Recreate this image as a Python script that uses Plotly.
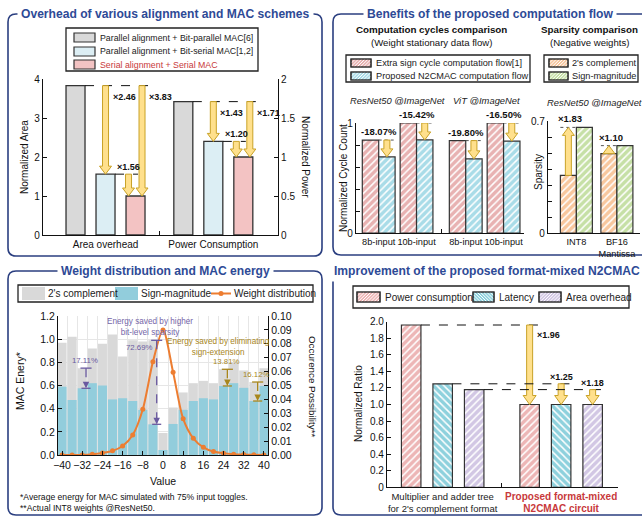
import plotly.graph_objects as go

W, H = 642, 518
FONT = "Liberation Sans, Arial, sans-serif"
TITLE_BLUE = "#2E4A96"
BORDER = "#2B3F80"
ARROW_FILL = "#FFE08C"
ARROW_LINE = "#C9A227"
OUTLINE = "#333333"

# ---------------- data ----------------
# (a) Overhead of various alignment and MAC schemes
schemes = ["Parallel alignment + Bit-parallel MAC[6]",
           "Parallel alignment + Bit-serial MAC[1,2]",
           "Serial alignment + Serial MAC"]
overhead_cats = ["Area overhead", "Power Consumption"]
area_vals = [3.83, 1.56, 1.00]
power_vals = [1.71, 1.20, 1.00]
area_ratio_labels = ["×2.46", "×3.83", "×1.56"]
power_ratio_labels = ["×1.43", "×1.71", "×1.20"]

# (b) Benefits of the proposed computation flow
cycle_flows = ["Extra sign cycle computation flow[1]", "Proposed N2CMAC computation flow"]
cycle_models = ["ResNet50 @ImageNet", "ViT @ImageNet"]
cycle_inputs = ["8b-input", "10b-input", "8b-input", "10b-input"]
cycle_extra = [0.845, 1.00, 0.84, 1.00]
cycle_n2c = [0.692, 0.846, 0.674, 0.835]
cycle_labels = ["-18.07%", "-15.42%", "-19.80%", "-16.50%"]

sparsity_formats = ["2's complement", "Sign-magnitude"]
sparsity_model = "ResNet50 @ImageNet"
sparsity_cats = ["INT8", "BF16<br>Mantissa"]
sparsity_2c = [0.36, 0.496]
sparsity_sm = [0.66, 0.546]
sparsity_labels = ["×1.83", "×1.10"]

# (c) Weight distribution and MAC energy
c_series = ["2's complement", "Sign-magnitude", "Weight distribution"]
weight_values = [-40, -36, -32, -28, -24, -20, -16, -12, -8, -4, 0,
                 4, 8, 12, 16, 20, 24, 28, 32, 36, 40]
energy_2c = [0.97, 1.02, 0.75, 0.92, 0.96, 1.04, 0.85, 0.99, 0.98, 0.99, 0.19,
             0.41, 0.54, 0.62, 0.64, 0.62, 0.74, 0.80, 0.73, 0.63, 0.75]
energy_sm = [0.59, 0.475, 0.576, 0.62, 0.60, 0.48, 0.49, 0.466, 0.39, 0.265, 0.043,
             0.268, 0.39, 0.466, 0.49, 0.48, 0.596, 0.62, 0.58, 0.466, 0.596]
occurrence = [0.0, 0.0, 0.0, 0.0005, 0.0015, 0.003, 0.0065, 0.0144, 0.0329, 0.067, 0.09,
              0.0595, 0.026, 0.012, 0.0055, 0.0025, 0.0012, 0.0006, 0.0003, 0.0001, 0.0]
saving_values = [-32, -4, 24, 36]
saving_labels = ["17.11%", "72.69%", "13.81%", "16.12%"]

# (d) Improvement of the proposed format-mixed N2CMAC
d_cats = ["Multiplier and adder tree<br>for 2's complement format",
          "<b><span style='color:#C8393B;font-size:10px'>Proposed format-mixed<br>N2CMAC circuit</span></b>"]
d_series = ["Power consumption", "Latency", "Area overhead"]
d_base = [1.96, 1.25, 1.18]
d_prop = [1.00, 1.00, 1.00]
d_labels = ["×1.96", "×1.25", "×1.18"]

# ---------------- helpers ----------------
fig = go.Figure()
shapes, annotations = [], []


def fx(px):
    return px / W


def fy(py):
    return 1 - py / H


def xdom(a, b):
    return [a / W, b / W]


def ydom(t, b):
    return [1 - b / H, 1 - t / H]


def upx(rng, p0, p1):
    return (rng[1] - rng[0]) / (p1 - p0)


def arrow_path(xc, y_from, y_to, ux, uy, shaft=6, head=12, head_h=8):
    s, h = shaft / 2 * ux, head / 2 * ux
    d = 1 if y_to < y_from else -1
    yb = y_to + d * head_h * uy
    pts = [(xc - s, y_from), (xc + s, y_from), (xc + s, yb), (xc + h, yb),
           (xc, y_to), (xc - h, yb), (xc - s, yb)]
    return "M" + " L".join(f"{x:.5f},{y:.5f}" for x, y in pts) + " Z"


def add_arrow(xref, yref, xc, y_from, y_to, ux, uy, **kw):
    shapes.append(dict(type="path", xref=xref, yref=yref,
                       path=arrow_path(xc, y_from, y_to, ux, uy, **kw),
                       fillcolor=ARROW_FILL, line=dict(color=ARROW_LINE, width=1), layer="above"))


def add_hline(xref, yref, x0, x1, y, dash="dash", color="#111", width=1):
    shapes.append(dict(type="line", xref=xref, yref=yref, x0=x0, x1=x1, y0=y, y1=y,
                       line=dict(color=color, width=width, dash=dash), layer="above"))


def label(xref, yref, x, y, text, xanchor="center", yanchor="bottom", size=9,
          bold=True, color="#111", yshift=0, xshift=0):
    annotations.append(dict(xref=xref, yref=yref, x=x, y=y, text=(f"<b>{text}</b>" if bold else text),
                            showarrow=False, xanchor=xanchor, yanchor=yanchor, yshift=yshift,
                            xshift=xshift, font=dict(size=size, color=color)))


def rrect(x0, y0, x1, y1, r=8):
    X = lambda v: f"{v / W:.5f}"
    Y = lambda v: f"{1 - v / H:.5f}"
    return (f"M{X(x0 + r)},{Y(y0)} L{X(x1 - r)},{Y(y0)} Q{X(x1)},{Y(y0)} {X(x1)},{Y(y0 + r)} "
            f"L{X(x1)},{Y(y1 - r)} Q{X(x1)},{Y(y1)} {X(x1 - r)},{Y(y1)} L{X(x0 + r)},{Y(y1)} "
            f"Q{X(x0)},{Y(y1)} {X(x0)},{Y(y1 - r)} L{X(x0)},{Y(y0 + r)} Q{X(x0)},{Y(y0)} {X(x0 + r)},{Y(y0)} Z")


def paper_text(px, py, text, size=10, color="#111", xanchor="center", angle=0, bold=False,
               italic=False, bg=None):
    t = text
    if bold:
        t = f"<b>{t}</b>"
    if italic:
        t = f"<i>{t}</i>"
    a = dict(xref="paper", yref="paper", x=fx(px), y=fy(py), text=t, showarrow=False,
             xanchor=xanchor, yanchor="middle", textangle=angle, font=dict(size=size, color=color))
    if bg:
        a.update(bgcolor=bg, borderpad=3)
    annotations.append(a)


def prect(x0, y0, x1, y1, fill, line_color=None, lw=1.0):
    shapes.append(dict(type="rect", xref="paper", yref="paper", x0=fx(x0), x1=fx(x1),
                       y0=fy(y1), y1=fy(y0), fillcolor=fill,
                       line=dict(color=line_color or fill, width=lw if line_color else 0),
                       layer="above"))


def hatch(x0, y0, x1, y1, direction="/", step=3.2):
    h = y1 - y0
    segs = []
    u = x0 - h
    while u < x1:
        k0, k1 = max(0, x0 - u), min(h, x1 - u)
        if k1 > k0:
            if direction == "/":
                p, q = (u + k0, y1 - k0), (u + k1, y1 - k1)
            else:
                p, q = (u + k0, y0 + k0), (u + k1, y0 + k1)
            segs.append(f"M{fx(p[0]):.5f},{fy(p[1]):.5f} L{fx(q[0]):.5f},{fy(q[1]):.5f}")
        u += step
    shapes.append(dict(type="path", xref="paper", yref="paper", path=" ".join(segs),
                       line=dict(color="white", width=1), layer="above"))


def legend_box(box, entries, size):
    x0, y0, x1, y1 = box
    prect(x0, y0, x1, y1, "white", "#222", 1.3)
    for e in entries:
        sx0, sy0, sx1, sy1 = e["sw"]
        if e.get("kind") == "line":
            ym = (sy0 + sy1) / 2
            shapes.append(dict(type="line", xref="paper", yref="paper", x0=fx(sx0), x1=fx(sx1),
                               y0=fy(ym), y1=fy(ym), line=dict(color=e["color"], width=2),
                               layer="above"))
            xm = (sx0 + sx1) / 2
            shapes.append(dict(type="circle", xref="paper", yref="paper", x0=fx(xm - 2.5),
                               x1=fx(xm + 2.5), y0=fy(ym + 2.5), y1=fy(ym - 2.5),
                               fillcolor=e["color"], line=dict(width=0), layer="above"))
        else:
            prect(sx0, sy0, sx1, sy1, e["color"], e.get("outline"), 1.2)
            if e.get("hatch"):
                hatch(sx0 + 0.6, sy0 + 0.6, sx1 - 0.6, sy1 - 0.6, e["hatch"])
                prect(sx0, sy0, sx1, sy1, "rgba(0,0,0,0)", e.get("outline"), 1.2)
        annotations.append(dict(xref="paper", yref="paper", x=fx(e["tx"]), y=fy((sy0 + sy1) / 2),
                                text=e["text"], showarrow=False, xanchor="left", yanchor="middle",
                                font=dict(size=size, color=e.get("tcolor", "#222"))))


axis_common = dict(showline=True, linecolor="#111", linewidth=1.2, showgrid=False, zeroline=False,
                   tickcolor="#111", ticklen=4, tickangle=0, automargin=False,
                   tickfont=dict(size=10, color="#111"))

# ---------------- panel borders and titles ----------------
panels = [((8, 14, 322, 256), 166, "Overhead of various alignment and MAC schemes"),
          ((333, 14, 660, 255), 490, "Benefits of the proposed computation flow"),
          ((8, 271, 322, 515), 166, "Weight distribution and MAC energy"),
          ((333, 271, 660, 515), 487, "Improvement of the proposed format-mixed N2CMAC")]
for (x0, y0, x1, y1), tx, title in panels:
    shapes.append(dict(type="path", xref="paper", yref="paper", path=rrect(x0, y0, x1, y1),
                       line=dict(color=BORDER, width=1.6), fillcolor="rgba(0,0,0,0)", layer="below"))
    paper_text(tx, y0, title, size=12.1, color=TITLE_BLUE, bold=True, bg="white")

# ---------------- (a) ----------------
A_X, A_Y = (43, 278), (79, 235)
a_xr = [-0.58, 1.6]
aux = upx(a_xr, *A_X)
auy = 4 / (A_Y[1] - A_Y[0])
auy2 = 2 / (A_Y[1] - A_Y[0])
a_slot, a_w = 30 * aux, 19 * aux
a_cols = ["#D9D9D9", "#DCEEF4", "#F3C3C3"]
a_pos = list(range(len(overhead_cats)))
for i, name in enumerate(schemes):
    off = (i - 1) * a_slot - a_w / 2
    fig.add_trace(go.Bar(x=[a_pos[0]], y=[area_vals[i]], name=name, xaxis="x", yaxis="y",
                         offset=off, width=a_w, showlegend=False,
                         marker=dict(color=a_cols[i], line=dict(color=OUTLINE, width=1.3))))
    fig.add_trace(go.Bar(x=[a_pos[1]], y=[power_vals[i]], name=name, xaxis="x", yaxis="y2",
                         offset=off, width=a_w, showlegend=False,
                         marker=dict(color=a_cols[i], line=dict(color=OUTLINE, width=1.3))))

for g, vals, labs, yref, uy in [(a_pos[0], area_vals, area_ratio_labels, "y", auy),
                                (a_pos[1], power_vals, power_ratio_labels, "y2", auy2)]:
    c = [g + (i - 1) * a_slot for i in range(3)]
    add_hline("x", yref, c[0] + a_w / 2, c[2] + a_w / 2 + 8 * aux, vals[0])
    add_hline("x", yref, c[1] + a_w / 2, c[2] + 2.5 * aux, vals[1])
    xa1, xa2, xa3 = c[1], c[2] + 6.5 * aux, c[2] - 7 * aux
    add_arrow("x", yref, xa1, vals[0], vals[1], aux, uy)
    add_arrow("x", yref, xa2, vals[0], vals[2], aux, uy)
    add_arrow("x", yref, xa3, vals[1], vals[2], aux, uy)
    label("x", yref, xa1 + 5 * aux, vals[0], labs[0], xanchor="left", yanchor="top", yshift=-4)
    label("x", yref, xa2 + 5 * aux, vals[0], labs[1], xanchor="left", yanchor="top", yshift=-4)
    label("x", yref, xa3, vals[1], labs[2], yanchor="bottom", yshift=0)

legend_box((66, 28, 258, 71), [
    dict(sw=(74, 33, 95, 42), color=a_cols[0], outline=OUTLINE, text=schemes[0], tx=98),
    dict(sw=(74, 47, 95, 56), color=a_cols[1], outline=OUTLINE, text=schemes[1], tx=98),
    dict(sw=(74, 60, 95, 69), color=a_cols[2], outline=OUTLINE, text=schemes[2], tx=98,
         tcolor="#C8393B"),
], 8.8)
paper_text(25, 157, "Normalized Area", angle=-90)
paper_text(305, 157, "Normalized Power", angle=90)

# ---------------- (b) cycles ----------------
B_X, B_Y = (356, 524), (123, 233)
b_xr = [-0.6, 3.84]
bux = upx(b_xr, *B_X)
buy = 1 / (B_Y[1] - B_Y[0])
b_w = 16.4 * bux
model_gap = 0.3
b_pos = [m * (2 + model_gap) + k for m in range(len(cycle_models)) for k in range(2)]
b_cols = ["#E8B2B2", "#A9DCE8"]
for i, (name, vals) in enumerate(zip(cycle_flows, [cycle_extra, cycle_n2c])):
    fig.add_trace(go.Bar(x=b_pos, y=vals, name=name, xaxis="x2", yaxis="y3",
                         offset=(i - 1) * b_w, width=b_w, showlegend=False,
                         marker=dict(color=b_cols[i], line=dict(color=OUTLINE, width=1.2),
                                     pattern=dict(shape="/", fgcolor="white", bgcolor=b_cols[i],
                                                  size=5, solidity=0.3, fillmode="replace"))))
for p, e, n, lab in zip(b_pos, cycle_extra, cycle_n2c, cycle_labels):
    xc = p + b_w / 2
    add_hline("x2", "y3", p, p + b_w + 1 * bux, e, dash="dot", color="#555")
    add_arrow("x2", "y3", xc, e, n, bux, buy)
    label("x2", "y3", p, e, lab, size=9.5, yshift=1)
for m, model in enumerate(cycle_models):
    mx = sum(b_pos[2 * m:2 * m + 2]) / 2
    annotations.append(dict(xref="x2", yref="paper", x=mx, y=fy(100), text=f"<i>{model}</i>",
                            showarrow=False, font=dict(size=9.4, color="#222"), yanchor="middle",
                            xshift=(0 if m == 0 else 2)))
legend_box((346, 55, 530, 82), [
    dict(sw=(351, 59, 371, 67), color=b_cols[0], outline=OUTLINE, hatch="/", text=cycle_flows[0], tx=374),
    dict(sw=(351, 72, 371, 80), color=b_cols[1], outline=OUTLINE, hatch="/", text=cycle_flows[1], tx=374),
], 9.2)
paper_text(431, 30, "Computation cycles comparison", size=9.8, bold=True)
paper_text(431, 42, "(Weight stationary data flow)", size=9.6)
paper_text(343, 178, "Normalized Cycle Count", angle=-90)

# ---------------- (b) sparsity ----------------
C_X, C_Y = (548, 640), (121, 233)
c_xr = [-0.7, 1.57]
cux = upx(c_xr, *C_X)
cuy = 0.7 / (C_Y[1] - C_Y[0])
c_w = 16 * cux
c_pos = list(range(len(sparsity_cats)))
c_cols = ["#F8C79E", "#C6E0A6"]
for i, (name, vals) in enumerate(zip(sparsity_formats, [sparsity_2c, sparsity_sm])):
    fig.add_trace(go.Bar(x=c_pos, y=vals, name=name, xaxis="x3", yaxis="y4",
                         offset=(i - 1) * c_w, width=c_w, showlegend=False,
                         marker=dict(color=c_cols[i], line=dict(color=OUTLINE, width=1.2),
                                     pattern=dict(shape="/", fgcolor="white", bgcolor=c_cols[i],
                                                  size=5, solidity=0.3, fillmode="replace"))))
for p, a, b, lab in zip(c_pos, sparsity_2c, sparsity_sm, sparsity_labels):
    xc = p - c_w / 2
    add_hline("x3", "y4", p - c_w, p, b, dash="dot", color="#555")
    add_arrow("x3", "y4", xc, a, b, cux, cuy)
    label("x3", "y4", xc + 2 * cux, b, lab, size=9.5, yshift=1)
legend_box((544, 55, 638, 82), [
    dict(sw=(549, 59, 568, 67), color=c_cols[0], outline=OUTLINE, hatch="/", text=sparsity_formats[0], tx=570),
    dict(sw=(549, 72, 568, 80), color=c_cols[1], outline=OUTLINE, hatch="/", text=sparsity_formats[1], tx=570),
], 9.2)
paper_text(589, 30, "Sparsity comparison", size=9.8, bold=True)
paper_text(589, 42, "(Negative weights)", size=9.6)
paper_text(594, 103, sparsity_model, size=9.4, italic=True, color="#222")
paper_text(538, 172, "Sparsity", angle=-90)

# ---------------- (c) ----------------
D_X, D_Y = (58, 268), (316, 455)
d_xr = [-41.6, 41.6]
dux = upx(d_xr, *D_X)
duy = 1.2 / (D_Y[1] - D_Y[0])
c_colors = ["#D9D9D9", "#92CDDC", "#ED7D31"]
fig.add_trace(go.Bar(x=weight_values, y=energy_2c, name=c_series[0], xaxis="x4", yaxis="y5",
                     width=3.6, marker=dict(color=c_colors[0], line=dict(width=0)), showlegend=False))
fig.add_trace(go.Bar(x=weight_values, y=energy_sm, name=c_series[1], xaxis="x4", yaxis="y5",
                     width=3.6, marker=dict(color=c_colors[1], line=dict(width=0)), showlegend=False))
fig.add_trace(go.Scatter(x=weight_values, y=occurrence, name=c_series[2], xaxis="x4",
                         yaxis="y6", mode="lines+markers", showlegend=False,
                         line=dict(color=c_colors[2], width=2, shape="spline", smoothing=0.8),
                         marker=dict(size=5, color=c_colors[2])))
for v, lab in zip(saving_values, saving_labels):
    k = weight_values.index(v)
    top, bot = energy_2c[k], energy_sm[k]
    col = "#6A5AA0" if v < 0 else "#A8861C"
    bx = v + 1.5
    add_hline("x4", "y5", bx - 2.2, bx + 2.2, top, dash="solid", color=col, width=1.3)
    add_hline("x4", "y5", bx - 1.8, bx + 1.8, bot, dash="solid", color=col, width=1.3)
    shapes.append(dict(type="line", xref="x4", yref="y5", x0=bx, x1=bx, y0=top, y1=bot + 6 * duy,
                       line=dict(color=col, width=1.3, dash="dash"), layer="above"))
    annotations.append(dict(xref="x4", yref="y5", x=bx, y=bot, text="", showarrow=True, ax=0, ay=-7,
                            arrowhead=2, arrowsize=1, arrowwidth=1.3, arrowcolor=col))
    if lab == "72.69%":
        label("x4", "y5", bx - 0.8, top, lab, xanchor="right", yanchor="top", size=7.8,
              bold=False, color=col, yshift=-1)
    else:
        label("x4", "y5", bx - 0.5, top, lab, size=7.8, bold=False, color=col, yshift=1)
annotations.append(dict(xref="paper", yref="paper", x=fx(105), y=fy(327),
                        text="Energy saved by higher<br>bit-level sparsity", showarrow=False,
                        font=dict(size=8.2, color="#7565A8"), yanchor="middle"))
annotations.append(dict(xref="paper", yref="paper", x=fx(218), y=fy(347),
                        text="Energy saved by eliminating<br>sign-extension", showarrow=False,
                        font=dict(size=8.2, color="#A8861C"), yanchor="middle"))
legend_box((18, 285, 313, 302), [
    dict(sw=(22, 287, 45, 300), color=c_colors[0], text=c_series[0], tx=46),
    dict(sw=(115, 287, 138, 300), color=c_colors[1], text=c_series[1], tx=139),
    dict(sw=(211, 287, 231, 300), color=c_colors[2], kind="line", text=c_series[2], tx=232),
], 10)
paper_text(20, 381, "MAC Enery*", size=10.5, angle=-90)
paper_text(313, 386, "Occurence Possibility**", size=9.8, angle=90)
paper_text(163, 481, "Value", size=10.5)
paper_text(18, 497, "*Average energy for MAC simulated with 75% input toggles.", size=8.6, xanchor="left")
paper_text(18, 508, "**Actual INT8 weights @ResNet50.", size=8.6, xanchor="left")

# ---------------- (d) ----------------
E_X, E_Y = (387, 618), (321.7, 487.3)
e_xr = [-0.47, 1.48]
eux = upx(e_xr, *E_X)
euy = 2.0 / (E_Y[1] - E_Y[0])
e_slot, e_w = 31.5 * eux, 19.5 * eux
e_cols = ["#EDB6B6", "#8ED1DD", "#D2C7E4"]
e_hatch = ["/", "\\", "/"]
e_pos = list(range(len(d_cats)))
for i, name in enumerate(d_series):
    fig.add_trace(go.Bar(x=e_pos, y=[d_base[i], d_prop[i]], name=name, xaxis="x5", yaxis="y7",
                         offset=(i - 1) * e_slot - e_w / 2, width=e_w, showlegend=False,
                         marker=dict(color=e_cols[i], line=dict(color=OUTLINE, width=1.2),
                                     pattern=dict(shape=e_hatch[i], fgcolor="white", bgcolor=e_cols[i],
                                                  size=5, solidity=0.3, fillmode="replace"))))
for i in range(len(d_series)):
    c0 = e_pos[0] + (i - 1) * e_slot
    c1 = e_pos[1] + (i - 1) * e_slot
    add_hline("x5", "y7", c0 + e_w / 2, c1 + e_w / 2 + 2 * eux, d_base[i])
    add_arrow("x5", "y7", c1, d_base[i], d_prop[i], eux, euy, shaft=6, head=13, head_h=9)
    if i == 0:
        label("x5", "y7", c1 + 5 * eux, d_base[i], d_labels[i], xanchor="left", yanchor="top",
              yshift=-3)
    else:
        label("x5", "y7", c1, d_base[i], d_labels[i], yanchor="bottom", yshift=0)
legend_box((353, 286, 629, 308), [
    dict(sw=(357, 292, 380, 302), color=e_cols[0], outline=OUTLINE, hatch=e_hatch[0], text=d_series[0], tx=383),
    dict(sw=(473, 292, 494, 302), color=e_cols[1], outline=OUTLINE, hatch=e_hatch[1], text=d_series[1], tx=497),
    dict(sw=(539, 292, 561, 302), color=e_cols[2], outline=OUTLINE, hatch=e_hatch[2], text=d_series[2], tx=564),
], 10.0)
paper_text(358, 403, "Normalized Ratio", angle=-90)

# ---------------- layout ----------------
fig.update_layout(
    width=W, height=H, margin=dict(l=0, r=0, t=0, b=0, pad=0, autoexpand=False),
    paper_bgcolor="white",
    plot_bgcolor="rgba(0,0,0,0)", barmode="overlay", showlegend=False,
    font=dict(family=FONT, size=10, color="#111"),
    shapes=shapes, annotations=annotations,
    # (a)
    xaxis=dict(axis_common, domain=xdom(*A_X), range=a_xr, anchor="y", tickmode="array",
               tickvals=a_pos, ticktext=overhead_cats, ticks="",
               minor=dict(tickvals=[0.5], ticks="inside", ticklen=4, tickcolor="#111")),
    yaxis=dict(axis_common, domain=ydom(*A_Y), range=[0, 4], anchor="x", tickvals=[0, 1, 2, 3, 4],
               ticks="inside"),
    yaxis2=dict(axis_common, domain=ydom(*A_Y), range=[0, 2], anchor="x", overlaying="y",
                side="right", tickvals=[0, 0.5, 1, 1.5, 2], ticktext=["0", "0.5", "1", "1.5", "2"],
                ticks="inside"),
    # (b) cycles
    xaxis2=dict(axis_common, domain=xdom(*B_X), range=b_xr, anchor="y3", tickmode="array",
                tickvals=b_pos, ticktext=cycle_inputs, ticks="", tickfont=dict(size=9.2, color="#111"),
                minor=dict(tickvals=[(b_pos[1] + b_pos[2]) / 2], ticks="inside", ticklen=4,
                           tickcolor="#111")),
    yaxis3=dict(axis_common, domain=ydom(*B_Y), range=[0, 1], anchor="x2",
                tickvals=[0, 0.2, 0.4, 0.6, 0.8, 1.0], ticktext=["0", "", "", "", "", "1"],
                ticks="inside"),
    # (b) sparsity
    xaxis3=dict(axis_common, domain=xdom(*C_X), range=c_xr, anchor="y4", tickmode="array",
                tickvals=c_pos, ticktext=sparsity_cats, ticks="", tickfont=dict(size=9.2, color="#111")),
    yaxis4=dict(axis_common, domain=ydom(*C_Y), range=[0, 0.7], anchor="x3",
                tickvals=[0, 0.1, 0.2, 0.3, 0.4, 0.5, 0.6, 0.7],
                ticktext=["0", "", "", "", "", "", "", "0.7"], ticks="inside"),
    # (c)
    xaxis4=dict(axis_common, domain=xdom(*D_X), range=d_xr, anchor="y5", dtick=8, tick0=0,
                ticks="inside", tickfont=dict(size=10.5),
                minor=dict(tick0=2, dtick=4, showgrid=True, gridcolor="#E6E6E6", ticks="")),
    yaxis5=dict(axis_common, domain=ydom(*D_Y), range=[0, 1.2], anchor="x4", dtick=0.2,
                tickformat=".1f", ticks="inside", showgrid=True, gridcolor="#E6E6E6",
                tickfont=dict(size=10.5)),
    yaxis6=dict(axis_common, domain=ydom(*D_Y), range=[0, 0.10], anchor="x4", overlaying="y5",
                side="right", dtick=0.01, tickformat=".2f", ticks="inside", tickfont=dict(size=10.5)),
    # (d)
    xaxis5=dict(axis_common, domain=xdom(*E_X), range=e_xr, anchor="y7", tickmode="array",
                tickvals=e_pos, ticktext=d_cats, ticks="", tickfont=dict(size=9.5, color="#222"),
                minor=dict(tickvals=[0.5], ticks="inside", ticklen=4, tickcolor="#111")),
    yaxis7=dict(axis_common, domain=ydom(*E_Y), range=[0, 2.0], anchor="x5",
                tickvals=[0, 0.2, 0.4, 0.6, 0.8, 1.0, 1.2, 1.4, 1.6, 1.8, 2.0],
                ticktext=["0", "0.2", "0.4", "0.6", "0.8", "1.0", "1.2", "1.4", "1.6", "1.8", "2.0"],
                ticks="inside", tickfont=dict(size=10)),
)

fig.write_html("out.html", config={"displayModeBar": False},
               post_script="document.body.style.margin='0';")
